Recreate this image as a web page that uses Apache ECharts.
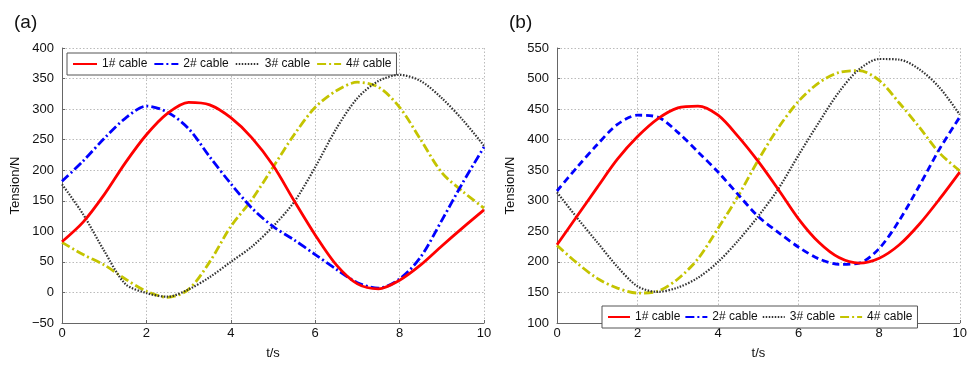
<!DOCTYPE html>
<html>
<head>
<meta charset="utf-8">
<script src="https://cdn.jsdelivr.net/npm/echarts@6/dist/echarts.min.js"></script>
<style>
  html, body { margin: 0; padding: 0; background: #fff; }
  #chart { width: 970px; height: 365px; }
</style>
</head>
<body>
<div id="chart"></div>
<script>
// time axis (s)
var times = [0, 0.5, 1, 1.5, 2, 2.5, 3, 3.5, 4, 4.5, 5, 5.5, 6, 6.5, 7, 7.5, 8, 8.5, 9, 9.5, 10];
var cableNames = ["1# cable", "2# cable", "3# cable", "4# cable"];

// panel (a) tension, N
var a1 = [83, 115, 160, 212, 258, 293, 311, 307, 286, 253, 208, 150, 94, 45, 14, 6, 20, 45, 76, 106, 135];
var a2 = [182, 215, 252, 285, 305, 295, 268, 222, 178, 138, 108, 86, 62, 38, 16, 7, 22, 58, 118, 180, 238];
var a3 = [177, 128, 68, 14, -1, -7, 5, 25, 50, 75, 108, 148, 205, 268, 318, 346, 356, 346, 318, 282, 240];
var a4 = [82, 62, 45, 22, 2, -8, 5, 50, 108, 152, 205, 258, 303, 330, 344, 336, 303, 250, 196, 165, 138];

// panel (b) tension, N
var b1 = [228, 275, 322, 368, 405, 434, 452, 455, 440, 405, 364, 318, 270, 232, 207, 198, 206, 228, 262, 303, 347];
var b2 = [316, 355, 392, 425, 440, 437, 412, 380, 347, 310, 274, 248, 224, 205, 196, 198, 222, 268, 325, 385, 437];
var b3 = [314, 272, 232, 192, 160, 151, 158, 174, 200, 235, 275, 320, 375, 428, 478, 515, 532, 531, 515, 485, 441];
var b4 = [227, 198, 173, 157, 149, 152, 172, 205, 255, 308, 367, 420, 463, 493, 510, 513, 497, 460, 420, 378, 349];

var colors = ["#ff0000", "#0000ff", "#333333", "#c4c400"];
var dashA = ["solid", [9, 3, 2, 3], [1.5, 1.5], [9, 3, 2, 3]];
var dashB = ["solid", [7, 4], [1.5, 1.5], [9, 3, 2, 3]];

function pairs(vals) {
  return times.map(function (t, i) { return [t, vals[i]]; });
}

function minus(v) {
  return String(v).replace("-", "\u2212");
}

function makeSeries(list, dash, idx) {
  return list.map(function (vals, i) {
    return {
      name: cableNames[i],
      type: "line",
      xAxisIndex: idx,
      yAxisIndex: idx,
      smooth: 0.3,
      symbol: "none",
      z: 10 - i,
      lineStyle: { color: colors[i], width: i === 2 ? 2.2 : 2.8, type: dash[i] },
      itemStyle: { color: colors[i] },
      data: pairs(vals)
    };
  });
}

var font = "Liberation Sans, Arial, sans-serif";
var gridLine = { show: true, lineStyle: { color: "#bbbbbb", type: [1.5, 2], width: 1 } };
var axisLabel = { color: "#111", fontSize: 13, fontFamily: font, formatter: minus };

function xAxis(idx) {
  return {
    type: "value", gridIndex: idx, min: 0, max: 10, interval: 2,
    name: "t/s", nameLocation: "middle", nameGap: 24,
    nameTextStyle: { color: "#111", fontSize: 13, fontFamily: font },
    axisLine: { onZero: false, lineStyle: { color: "#666" } },
    axisTick: { inside: true, length: 3, lineStyle: { color: "#666" } },
    axisLabel: { color: "#111", fontSize: 13, fontFamily: font, margin: 4 },
    splitLine: gridLine
  };
}

function yAxis(idx, min, max, gap) {
  return {
    type: "value", gridIndex: idx, min: min, max: max, interval: 50,
    name: "Tension/N", nameLocation: "middle", nameGap: gap,
    nameTextStyle: { color: "#111", fontSize: 13, fontFamily: font },
    axisLine: { show: true, onZero: false, lineStyle: { color: "#666" } },
    axisTick: { show: true, inside: true, length: 3, lineStyle: { color: "#666" } },
    axisLabel: axisLabel,
    splitLine: gridLine
  };
}

var legendBase = {
  orient: "horizontal",
  itemWidth: 24,
  itemHeight: 10,
  itemGap: 6,
  padding: [5, 5, 5, 5],
  borderColor: "#555",
  borderWidth: 1,
  backgroundColor: "#fff",
  itemStyle: { opacity: 0 },
  textStyle: { color: "#111", fontSize: 12, fontFamily: font },
  data: cableNames
};

var chart = echarts.init(document.getElementById("chart"));
chart.setOption({
  animation: false,
  backgroundColor: "#fff",
  title: [
    { text: "(a)", left: 9, top: 8, textStyle: { fontSize: 19, fontWeight: "normal", color: "#111", fontFamily: font } },
    { text: "(b)", left: 504, top: 8, textStyle: { fontSize: 19, fontWeight: "normal", color: "#111", fontFamily: font } }
  ],
  legend: [
    Object.assign({}, legendBase, { left: 67, top: 53 }),
    Object.assign({}, legendBase, { left: 602, top: 306, itemWidth: 22, itemGap: 4 })
  ],
  grid: [
    { left: 62, right: 486, top: 48, bottom: 31 },
    { left: 557, right: 7, top: 48, bottom: 33 }
  ],
  xAxis: [xAxis(0), xAxis(1)],
  yAxis: [yAxis(0, -50, 400, 40), yAxis(1, 100, 550, 40)],
  series: makeSeries([a1, a2, a3, a4], dashA, 0).concat(makeSeries([b1, b2, b3, b4], dashB, 1))
});
</script>
</body>
</html>
